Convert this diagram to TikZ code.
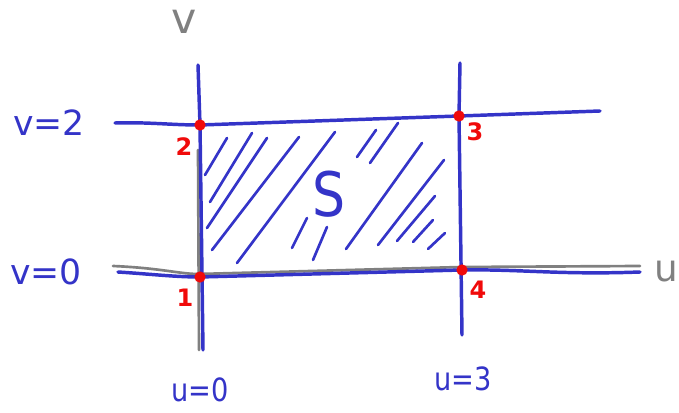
\documentclass[tikz,border=0pt]{standalone}
\usepackage{fontspec}
\setmainfont{DejaVu Sans}
\definecolor{pen}{RGB}{52,52,200}
\definecolor{dot}{RGB}{240,10,10}
\definecolor{axis}{RGB}{128,128,128}
\begin{document}
\begin{tikzpicture}[x=0.75pt,y=-0.75pt,
  bl/.style={pen,line width=2.6pt,line cap=round},
  hat/.style={pen,line width=2pt,line cap=round},
  gr/.style={axis,line width=2pt,line cap=round},
  rd/.style={circle,fill=dot,inner sep=0pt,minimum size=8.5pt},
  rl/.style={dot,font=\bfseries\fontsize{18}{18}\selectfont,inner sep=0pt},
  blab/.style={pen,font=\fontsize{26}{26}\selectfont,inner sep=0pt},
  ulab/.style={pen,font=\fontsize{24}{24}\selectfont,inner sep=0pt,xscale=0.85},
  glab/.style={axis,font=\fontsize{32}{32}\selectfont,inner sep=0pt}]
\useasboundingbox (0,0) rectangle (679,413);
% gray axes
\draw[gr] (113,266) .. controls (160,268) and (180,274) .. (198,274) -- (462,267) -- (640,266);
\draw[gr] (198,150) -- (199,350);
% blue grid lines
\draw[bl] (115,123) .. controls (150,122) and (170,125) .. (200,125) -- (459,116) -- (600,111);
\draw[bl] (118,272) .. controls (150,274) and (175,277) .. (200,277) -- (462,270) .. controls (520,269) and (560,275) .. (640,272);
\draw[bl] (198,65) -- (200,125) -- (203,350);
\draw[bl] (460,63) -- (459,116) -- (462,335);
% hatching
\foreach \a/\b/\c/\d in {205/175/227/138, 210/202/252/133, 207/228/267/138, 212/250/299/137,
  237/263/335/132, 292/248/307/218, 313/260/327/227, 357/157/376/130, 370/163/398/123,
  346/249/422/143, 378/245/444/160, 397/241/435/196, 413/242/433/220, 428/249/445/233}
  \draw[hat] (\a,\b) -- (\c,\d);
% points
\node[rd] (p2) at (200,125) {};
\node[rd] (p3) at (459,116) {};
\node[rd] (p1) at (200,277) {};
\node[rd] (p4) at (462,270) {};
\node[rl] (l2) at (184,147) {2};
\node[rl] (l3) at (475,132) {3};
\node[rl] (l1) at (185,298) {1};
\node[rl] (l4) at (478,290) {4};
% labels
\node[blab] (lv2) at (49,123) {v=2};
\node[blab] (lv0) at (46,272) {v=0};
\node[ulab] (lu0) at (200,390) {u=0};
\node[ulab] (lu3) at (463,379) {u=3};
\node[pen,font=\fontsize{46}{46}\selectfont,inner sep=0pt,xscale=0.85] (S) at (329,194) {S};
\node[glab] (v) at (184,22) {v};
\node[glab,anchor=east,font=\fontsize{28}{28}\selectfont] (u) at (678,271) {u};
\end{tikzpicture}
\end{document}
